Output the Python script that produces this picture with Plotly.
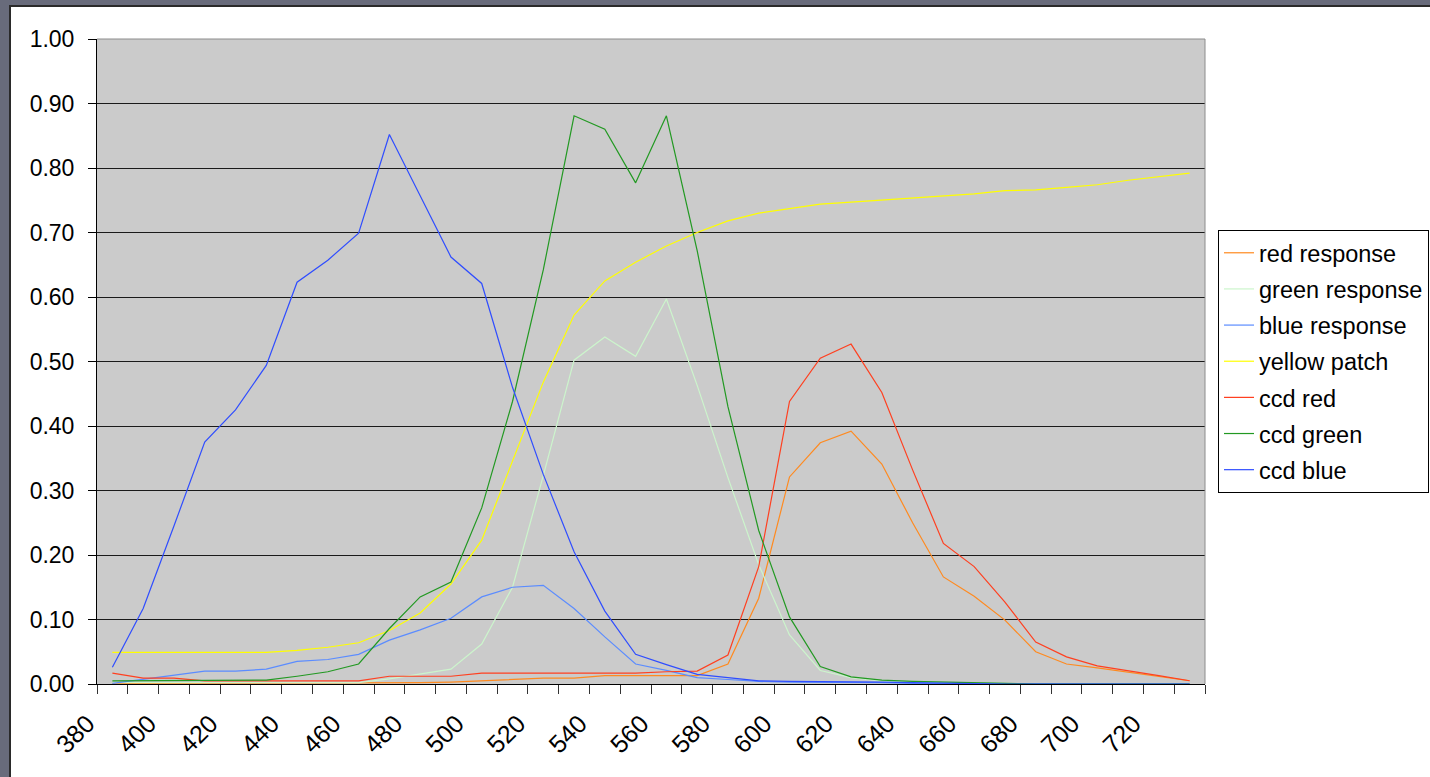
import plotly.graph_objects as go

# ---- data ----
wavelength = list(range(380, 740, 10))
tick_labels = [str(v) for v in range(380, 721, 20)]

red_response = [0.001, 0.001, 0.001, 0.001, 0.001, 0.001, 0.001, 0.001,
                0.002, 0.002, 0.002, 0.003, 0.005, 0.006, 0.009, 0.009,
                0.013, 0.013, 0.013, 0.013, 0.031, 0.133, 0.321, 0.374,
                0.392, 0.341, 0.250, 0.166, 0.136, 0.099, 0.050, 0.031,
                0.025, 0.018, 0.011, 0.005]
green_response = [0.002, 0.002, 0.002, 0.002, 0.002, 0.002, 0.002, 0.002,
                  0.002, 0.008, 0.015, 0.023, 0.062, 0.150, 0.323, 0.502,
                  0.538, 0.508, 0.597, 0.463, 0.320, 0.185, 0.076, 0.021,
                  0.010, 0.005, 0.003, 0.002, 0.001, 0.0, 0.0, 0.0,
                  0.0, 0.0, 0.0, 0.0]
blue_response = [0.001, 0.007, 0.0135, 0.020, 0.020, 0.023, 0.035, 0.038,
                 0.046, 0.068, 0.084, 0.102, 0.135, 0.150, 0.153, 0.117,
                 0.073, 0.031, 0.021, 0.010, 0.007, 0.004, 0.003, 0.003,
                 0.002, 0.002, 0.001, 0.001, 0.0, 0.0, 0.0, 0.0,
                 0.0, 0.0, 0.0, 0.0]
yellow_patch = [0.049, 0.049, 0.049, 0.049, 0.049, 0.049, 0.052, 0.057,
                0.064, 0.083, 0.110, 0.155, 0.223, 0.345, 0.468, 0.572,
                0.625, 0.654, 0.679, 0.700, 0.718, 0.730, 0.737, 0.744,
                0.747, 0.750, 0.753, 0.756, 0.760, 0.765, 0.766, 0.770,
                0.774, 0.781, 0.787, 0.792]
ccd_red = [0.017, 0.009, 0.009, 0.005, 0.005, 0.005, 0.005, 0.005,
           0.005, 0.012, 0.012, 0.012, 0.017, 0.017, 0.017, 0.017,
           0.017, 0.017, 0.019, 0.020, 0.045, 0.182, 0.438, 0.505,
           0.527, 0.452, 0.332, 0.218, 0.182, 0.127, 0.065, 0.042,
           0.028, 0.021, 0.013, 0.005]
ccd_green = [0.005, 0.005, 0.005, 0.005, 0.005, 0.006, 0.012, 0.019,
             0.031, 0.086, 0.135, 0.158, 0.273, 0.438, 0.642, 0.881,
             0.860, 0.777, 0.881, 0.672, 0.430, 0.238, 0.104, 0.027,
             0.011, 0.006, 0.004, 0.003, 0.001, 0.0, 0.0, 0.0,
             0.0, 0.0, 0.0, 0.0]
ccd_blue = [0.026, 0.117, 0.245, 0.375, 0.425, 0.494, 0.623, 0.657,
            0.699, 0.852, 0.757, 0.662, 0.621, 0.460, 0.325, 0.205,
            0.113, 0.046, 0.030, 0.015, 0.010, 0.005, 0.004, 0.004,
            0.004, 0.003, 0.002, 0.001, 0.001, 0.0, 0.0, 0.0,
            0.0, 0.0, 0.0, 0.0]

series_names = ["red response", "green response", "blue response", "yellow patch",
                "ccd red", "ccd green", "ccd blue"]
series_values = [red_response, green_response, blue_response, yellow_patch,
                 ccd_red, ccd_green, ccd_blue]
series_colors = ["#ff8a1f", "#ccf5cc", "#5b8cff", "#ffff00",
                 "#ff4020", "#229922", "#2f4dff"]

FONT = "Liberation Sans, Arial, sans-serif"

# plot area geometry in pixels (for frame shapes)
W, H = 1430, 777
L, R, T, B = 97, 225, 39, 93
pw, ph = W - L - R, H - T - B


def px_x(p):
    return (p - L) / pw


def px_y(p):
    return (H - B - p) / ph


fig = go.Figure()
for i, (name, vals, color) in enumerate(zip(series_names, series_values, series_colors)):
    fig.add_trace(go.Scatter(
        x=wavelength, y=vals, mode="lines", name=name,
        legendgroup=f"g{i}",
        line=dict(color=color, width=1.2),
    ))

shapes = [
    # white chart area inside the dark window frame
    dict(type="rect", xref="paper", yref="paper", layer="below",
         x0=px_x(10), x1=px_x(1445), y0=px_y(795), y1=px_y(6),
         fillcolor="white", line=dict(color="#2a2a2a", width=2)),
    # grey plot area
    dict(type="rect", xref="paper", yref="paper", layer="below",
         x0=0, x1=1, y0=0, y1=1, fillcolor="#cbcbcb", line=dict(width=0)),
    # plot-area border on top / right
    dict(type="line", xref="paper", yref="paper", layer="above",
         x0=0, x1=1, y0=1, y1=1, line=dict(color="#8c8c8c", width=1)),
    dict(type="line", xref="paper", yref="paper", layer="above",
         x0=1, x1=1, y0=0, y1=1, line=dict(color="#8c8c8c", width=1)),
]

fig.update_layout(
    width=W, height=H,
    margin=dict(l=L, r=R, t=T, b=B, pad=0, autoexpand=False),
    paper_bgcolor="#686b7b",
    plot_bgcolor="rgba(0,0,0,0)",
    font=dict(family=FONT, size=23, color="black"),
    shapes=shapes,
    showlegend=True,
    legend=dict(
        x=px_x(1218), y=px_y(230), xanchor="left", yanchor="top",
        bgcolor="white", bordercolor="black", borderwidth=1,
        font=dict(family=FONT, size=23.5, color="black"),
        traceorder="grouped", tracegroupgap=2.6, itemwidth=30,
    ),
    xaxis=dict(
        range=[375, 735], tickmode="array",
        tickvals=list(range(380, 721, 20)), ticktext=tick_labels,
        ticks="", tickangle=-45, ticklabelshift=-25, ticklabelstandoff=14,
        showline=True, linecolor="black", linewidth=1,
        showgrid=False, zeroline=False,
        tickfont=dict(family=FONT, size=25, color="black"),
        minor=dict(tickmode="array", tickvals=[375 + 10 * k for k in range(37)],
                   ticks="outside", ticklen=9, tickcolor="#333333", tickwidth=1,
                   showgrid=False),
    ),
    yaxis=dict(
        range=[0, 1], tickmode="linear", tick0=0, dtick=0.1, tickformat=".2f",
        ticks="outside", ticklen=8, tickcolor="black", tickwidth=1,
        showline=True, linecolor="black", linewidth=1,
        showgrid=True, gridcolor="#1a1a1a", gridwidth=1,
        zeroline=False, ticklabelstandoff=9,
        tickfont=dict(family=FONT, size=23, color="black"),
    ),
)

fig.write_html(
    "out.html",
    config={"displayModeBar": False},
    post_script="document.body.style.margin='0';document.body.style.overflow='hidden';",
)
